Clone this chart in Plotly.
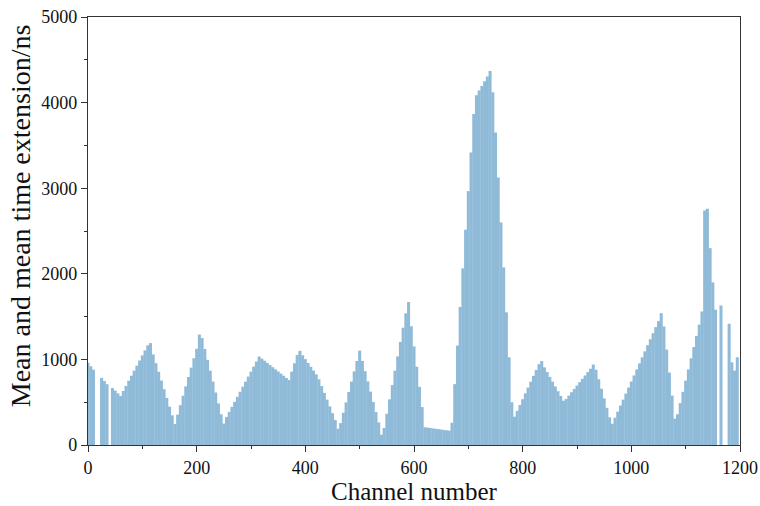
import plotly.graph_objects as go

# Channel positions (bars every 5 channels)
channels = list(range(0, 1200, 5))

# Mean time extension (ns) per bar
values = [
    960, 920, 880, 0, 0, 784, 747, 710, 0, 666,          # 0-45
    635, 603, 572, 631, 690, 750, 809, 868, 927, 987,    # 50-95
    1046, 1105, 1164, 1190, 1058, 956, 855, 753, 652, 550,  # 100-145
    448, 347, 245, 355, 465, 575, 685, 794, 904, 1014,   # 150-195
    1124, 1290, 1249, 1122, 995, 868, 741, 613, 486, 359,  # 200-245
    250, 328, 387, 446, 504, 563, 622, 681, 740, 799,    # 250-295
    857, 916, 975, 1034, 1009, 984, 959, 934, 909, 884,  # 300-345
    859, 834, 809, 784, 759, 857, 954, 1052, 1100, 1048,  # 350-395
    1003, 958, 914, 869, 825, 767, 688, 609, 530, 451,   # 400-445
    372, 293, 190, 256, 377, 498, 619, 740, 860, 981,    # 450-495
    1102, 982, 863, 743, 624, 503, 384, 264, 120, 198,   # 500-545
    365, 533, 700, 868, 1035, 1203, 1370, 1538, 1670, 1387,  # 550-595
    1151, 915, 679, 443, 207, 203, 198, 194, 189, 185,   # 600-645
    181, 176, 172, 168, 260, 711, 1162, 1613, 2064, 2515,  # 650-695
    2966, 3417, 3868, 4085, 4140, 4195, 4250, 4305, 4370, 4120,  # 700-745
    3650, 3125, 2600, 2075, 1550, 1025, 500, 331, 399, 467,  # 750-795
    535, 603, 671, 740, 808, 876, 944, 980, 907, 852,    # 800-845
    796, 740, 684, 628, 573, 517, 537, 577, 616, 655,    # 850-895
    694, 734, 773, 812, 852, 891, 940, 879, 768, 657,    # 900-945
    545, 434, 323, 248, 319, 389, 460, 530, 601, 671,    # 950-995
    742, 812, 883, 953, 1024, 1094, 1165, 1235, 1306, 1377,  # 1000-1045
    1447, 1540, 1385, 1115, 846, 577, 308, 359, 490, 621,  # 1050-1095
    752, 883, 1013, 1144, 1275, 1406, 1560, 2740, 2760, 2300,  # 1100-1145
    1900, 1580, 0, 1630, 0, 0, 1416, 966, 869, 1025,     # 1150-1195
]

x_ticks = [0, 200, 400, 600, 800, 1000, 1200]
y_ticks = [0, 1000, 2000, 3000, 4000, 5000]

font_family = "Liberation Serif"
ink = "#111"

fig = go.Figure()
fig.add_trace(go.Bar(
    x=channels, y=values, width=5.6,
    marker=dict(color="#8fbad8", line=dict(width=0)),
))

fig.update_layout(
    width=760, height=506,
    margin=dict(l=88, r=20, t=17, b=61),
    plot_bgcolor="white", paper_bgcolor="white",
    showlegend=False,
    font=dict(family=font_family, color=ink),
    annotations=[
        dict(text="Channel number", xref="paper", yref="paper",
             x=0.5, y=-0.108, xanchor="center", yanchor="middle",
             showarrow=False, font=dict(family=font_family, size=25, color=ink)),
        dict(text="Mean and mean time extension/ns", xref="paper", yref="paper",
             x=-0.104, y=0.535, xanchor="center", yanchor="middle", textangle=-90,
             showarrow=False, font=dict(family=font_family, size=28, color=ink)),
    ],
)
axis_common = dict(
    showline=True, linecolor="#333", linewidth=1.3, mirror=True,
    showgrid=False, zeroline=False, automargin=False,
    ticks="outside", ticklen=6, tickwidth=1.2, tickcolor="#333",
    tickfont=dict(family=font_family, size=18, color=ink),
)
fig.update_xaxes(
    range=[0, 1200], tickvals=x_ticks, ticktext=[str(t) for t in x_ticks],
    minor=dict(dtick=100, ticks="outside", ticklen=3, tickcolor="#333"),
    **axis_common,
)
fig.update_yaxes(
    range=[0, 5000], tickvals=y_ticks, ticktext=[str(t) for t in y_ticks],
    minor=dict(dtick=500, ticks="outside", ticklen=3, tickcolor="#333"),
    **axis_common,
)
fig.write_html("out.html")
